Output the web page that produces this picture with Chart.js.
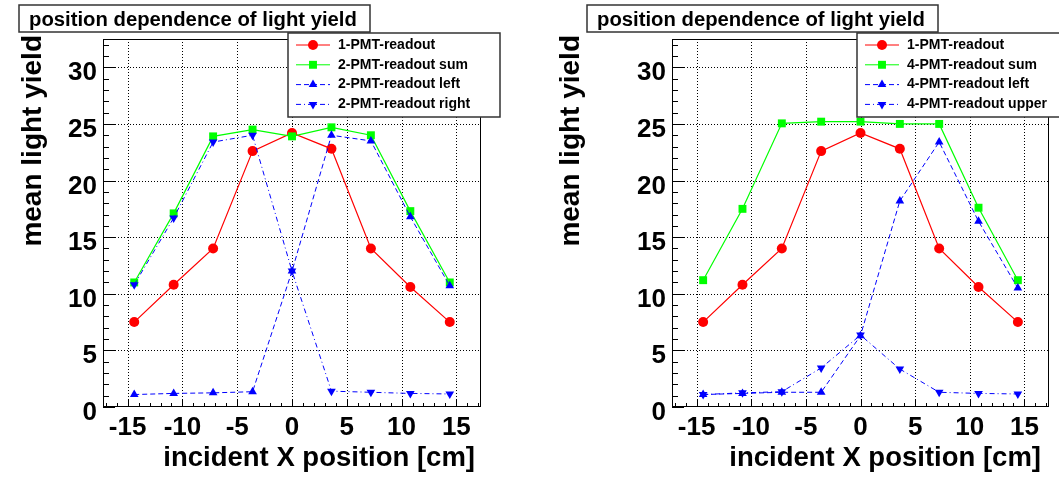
<!DOCTYPE html>
<html>
<head>
<meta charset="utf-8">
<script src="https://cdn.jsdelivr.net/npm/chart.js@4/dist/chart.umd.min.js"></script>
<style>
  html, body { margin: 0; padding: 0; background: #fff; }
  #wrap { position: relative; width: 1059px; height: 478px; overflow: hidden; }
  canvas { position: absolute; top: 0; }
</style>
</head>
<body>
<div id="wrap">
  <canvas id="left" width="530" height="478" style="left:0"></canvas>
  <canvas id="right" width="529" height="478" style="left:530px"></canvas>
</div>
<script>
// incident X positions [cm]
const xPos = [-14.4, -10.8, -7.2, -3.6, 0, 3.6, 7.2, 10.8, 14.4];

// left panel: 2-PMT readout
const pmt1 = [7.5, 10.8, 14.0, 22.6, 24.2, 22.8, 14.0, 10.6, 7.5];
const pmt2Sum = [11.0, 17.1, 23.9, 24.5, 23.9, 24.7, 24.0, 17.3, 11.0];
const pmt2Left = [1.1, 1.2, 1.25, 1.35, 12.0, 24.0, 23.5, 16.8, 10.7];
const pmt2Right = [10.8, 16.7, 23.4, 24.0, 12.0, 1.4, 1.3, 1.2, 1.15];

// right panel: 4-PMT readout
const pmt4Sum = [11.2, 17.5, 25.05, 25.2, 25.2, 25.0, 25.0, 17.6, 11.2];
const pmt4Left = [1.1, 1.2, 1.3, 1.3, 6.3, 18.2, 23.4, 16.4, 10.5];
const pmt4Upper = [1.1, 1.25, 1.35, 3.45, 6.35, 3.35, 1.3, 1.2, 1.15];

const xTicks = [-15, -10, -5, 0, 5, 10, 15];
const yTicks = [0, 5, 10, 15, 20, 25, 30];
const titleText = 'position dependence of light yield';
const xTitle = 'incident X position [cm]';
const yTitle = 'mean light yield';

const FONT = '"Liberation Sans", Arial, Helvetica, sans-serif';

function pts(ys) {
  return xPos.map((x, i) => ({ x: x, y: ys[i] }));
}

function series(label, ys, color, style, opt) {
  return Object.assign({
    label: label,
    data: pts(ys),
    showLine: true,
    tension: 0,
    borderColor: color,
    backgroundColor: color,
    borderWidth: 1.2,
    pointStyle: style,
    pointRadius: 5,
    pointHoverRadius: 5,
    pointBorderWidth: 0,
    pointBackgroundColor: color
  }, opt || {});
}

function drawMarker(ctx, ds, x, y) {
  const r = ds.pointRadius;
  ctx.fillStyle = ds.pointBackgroundColor;
  ctx.beginPath();
  if (ds.pointStyle === 'circle') {
    ctx.arc(x, y, r, 0, Math.PI * 2);
  } else if (ds.pointStyle === 'rect') {
    const s = Math.SQRT1_2 * r;
    ctx.rect(x - s, y - s, 2 * s, 2 * s);
  } else {
    const down = ds.pointRotation === 180 ? -1 : 1;
    const h = Math.sqrt(3) / 2 * r;
    ctx.moveTo(x, y - down * r);
    ctx.lineTo(x + h, y + down * r / 2);
    ctx.lineTo(x - h, y + down * r / 2);
    ctx.closePath();
  }
  ctx.fill();
}

// ROOT-like frame, ticks, grid, title pave and legend
const rootStyle = {
  id: 'rootStyle',
  beforeDatasetsDraw(chart) {
    const { ctx, chartArea: a, scales: { x, y } } = chart;
    ctx.save();
    ctx.strokeStyle = '#000';
    ctx.lineWidth = 1;
    ctx.setLineDash([1, 2]);
    ctx.beginPath();
    xTicks.forEach(v => {
      const px = Math.round(x.getPixelForValue(v)) + 0.5;
      ctx.moveTo(px, a.top);
      ctx.lineTo(px, a.bottom);
    });
    yTicks.forEach(v => {
      if (v === 0) return;
      const py = Math.round(y.getPixelForValue(v)) + 0.5;
      ctx.moveTo(a.left, py);
      ctx.lineTo(a.right, py);
    });
    ctx.stroke();
    ctx.restore();
  },
  afterDatasetsDraw(chart, args, o) {
    const { ctx, chartArea: a, scales: { x, y } } = chart;
    ctx.save();

    // frame
    ctx.strokeStyle = '#000';
    ctx.lineWidth = 1;
    ctx.strokeRect(Math.round(a.left) + 0.5, Math.round(a.top) + 0.5,
      Math.round(a.right - a.left) - 1, Math.round(a.bottom - a.top) - 1);

    // ticks
    ctx.beginPath();
    for (let v = -17; v <= 17; v++) {
      const px = Math.round(x.getPixelForValue(v)) + 0.5;
      const len = v % 5 === 0 ? 8 : 4;
      ctx.moveTo(px, a.bottom);
      ctx.lineTo(px, a.bottom - len);
    }
    for (let v = 0; v <= 32; v++) {
      const py = Math.round(y.getPixelForValue(v)) + 0.5;
      const len = v % 5 === 0 ? 12 : 6;
      ctx.moveTo(a.left, py);
      ctx.lineTo(a.left + len, py);
    }
    ctx.stroke();

    // tick labels
    ctx.fillStyle = '#000';
    ctx.font = 'bold 26px ' + FONT;
    ctx.textAlign = 'center';
    ctx.textBaseline = 'alphabetic';
    xTicks.forEach(v => ctx.fillText(String(v), x.getPixelForValue(v), 435));
    ctx.textAlign = 'right';
    yTicks.forEach(v => ctx.fillText(String(v), a.left - 6, y.getPixelForValue(v) + 13));

    // axis titles
    ctx.font = 'bold 27.5px ' + FONT;
    ctx.textAlign = 'right';
    ctx.fillText(xTitle, a.right - o.xTitleGap, 466);
    ctx.save();
    ctx.translate(o.yTitleX, 35);
    ctx.rotate(-Math.PI / 2);
    ctx.textAlign = 'right';
    ctx.font = 'bold 28px ' + FONT;
    ctx.fillText(yTitle, 0, 0);
    ctx.restore();

    // title pave
    const t = o.titleBox;
    ctx.fillStyle = '#fff';
    ctx.fillRect(t.x, t.y, t.w, t.h);
    ctx.strokeStyle = '#333';
    ctx.lineWidth = 1.5;
    ctx.strokeRect(t.x, t.y, t.w, t.h);
    ctx.fillStyle = '#000';
    ctx.font = 'bold 20.3px ' + FONT;
    ctx.textAlign = 'left';
    ctx.fillText(titleText, t.x + 10, t.y + 21);

    // legend
    const L = o.legendBox;
    ctx.fillStyle = '#fff';
    ctx.fillRect(L.x, L.y, L.w, L.h);
    ctx.strokeStyle = '#333';
    ctx.lineWidth = 1.5;
    ctx.strokeRect(L.x, L.y, L.w, L.h);
    ctx.font = 'bold 14px ' + FONT;
    ctx.textBaseline = 'middle';
    chart.data.datasets.forEach((ds, i) => {
      const cy = L.y + 12 + i * 19.8;
      ctx.strokeStyle = ds.borderColor;
      ctx.lineWidth = 1;
      ctx.setLineDash(ds.borderDash || []);
      ctx.beginPath();
      ctx.moveTo(L.x + 8, cy);
      ctx.lineTo(L.x + 42, cy);
      ctx.stroke();
      ctx.setLineDash([]);
      drawMarker(ctx, ds, L.x + 25, cy);
      ctx.fillStyle = '#000';
      ctx.fillText(ds.label, L.x + 50, cy);
    });
    ctx.restore();
  }
};

function makeChart(id, datasets, pad, opts) {
  return new Chart(document.getElementById(id), {
    type: 'scatter',
    data: { datasets: datasets },
    plugins: [rootStyle],
    options: {
      responsive: false,
      animation: false,
      devicePixelRatio: 1,
      layout: { padding: pad },
      plugins: {
        legend: { display: false },
        tooltip: { enabled: false },
        rootStyle: opts
      },
      scales: {
        x: { type: 'linear', min: -17.25, max: 17.25, display: false },
        y: { type: 'linear', min: 0, max: 32.5, display: false }
      }
    }
  });
}

makeChart('left', [
  series('1-PMT-readout', pmt1, '#ff0000', 'circle', { order: 4 }),
  series('2-PMT-readout sum', pmt2Sum, '#00ff00', 'rect', { order: 3, pointRadius: 5.6 }),
  series('2-PMT-readout left', pmt2Left, '#0000ff', 'triangle', { order: 2, borderWidth: 1, borderDash: [5, 3] }),
  series('2-PMT-readout right', pmt2Right, '#0000ff', 'triangle', { order: 1, borderWidth: 1, pointRotation: 180, borderDash: [5, 3, 1, 3] })
], { left: 103, right: 49, top: 39, bottom: 71 }, {
  yTitleX: 41,
  xTitleGap: 6,
  titleBox: { x: 19, y: 5, w: 351, h: 27 },
  legendBox: { x: 288, y: 33, w: 212, h: 84 }
});

makeChart('right', [
  series('1-PMT-readout', pmt1, '#ff0000', 'circle', { order: 4 }),
  series('4-PMT-readout sum', pmt4Sum, '#00ff00', 'rect', { order: 3, pointRadius: 5.6 }),
  series('4-PMT-readout left', pmt4Left, '#0000ff', 'triangle', { order: 2, borderWidth: 1, borderDash: [5, 3] }),
  series('4-PMT-readout upper', pmt4Upper, '#0000ff', 'triangle', { order: 1, borderWidth: 1, pointRotation: 180, borderDash: [5, 3, 1, 3] })
], { left: 142, right: 10, top: 39, bottom: 71 }, {
  yTitleX: 49,
  xTitleGap: 8,
  titleBox: { x: 57, y: 5, w: 351, h: 27 },
  legendBox: { x: 327, y: 33, w: 220, h: 84 }
});
</script>
</body>
</html>
